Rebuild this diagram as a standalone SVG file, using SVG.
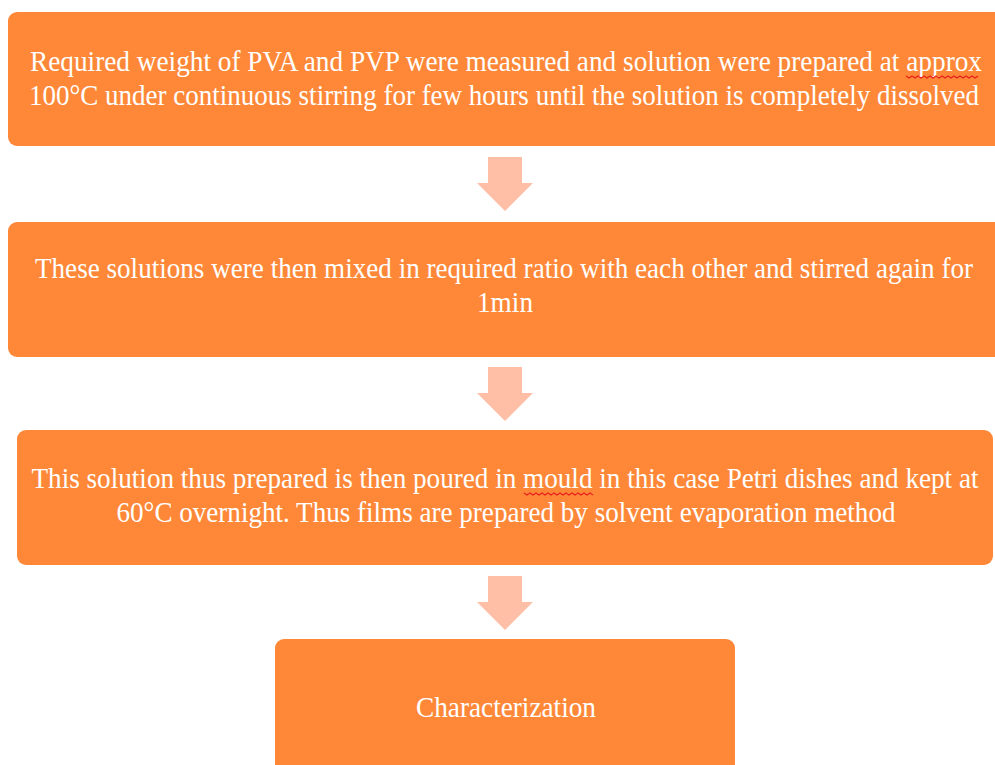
<svg xmlns="http://www.w3.org/2000/svg" width="995" height="765" viewBox="0 0 995 765">
<style>
.box{fill:#FE8838;}
.arr{fill:#FFBFA7;}
.t{font-family:"Liberation Serif","Times New Roman",serif;font-size:30px;fill:#FFFFFF;text-anchor:middle;}
.sq{fill:none;stroke:#E8201C;stroke-width:1.2;}
</style>
<rect width="995" height="765" fill="#FFFFFF"/>
<g id="connectors">
<polygon class="arr" points="488,157 522,157 522,183 533,183 505,211 477,183 488,183"/>
<polygon class="arr" points="488,367 522,367 522,393 533,393 505,421 477,393 488,393"/>
<polygon class="arr" points="488,576 522,576 522,602 533,602 505,630 477,602 488,602"/>
</g>
<g id="step1">
<path class="box" d="M17,12 H995 V146 H17 A9,9 0 0 1 8,137 V21 A9,9 0 0 1 17,12 Z"/>
<text class="t" x="506" y="71" textLength="952" lengthAdjust="spacingAndGlyphs">Required weight of PVA and PVP were measured and solution were prepared at approx</text>
<text class="t" x="504" y="105" textLength="950" lengthAdjust="spacingAndGlyphs">100°C under continuous stirring for few hours until the solution is completely dissolved</text>
<path class="sq" d="M906,76 l3,2 l3,-2 l3,2 l3,-2 l3,2 l3,-2 l3,2 l3,-2 l3,2 l3,-2 l3,2 l3,-2 l3,2 l3,-2 l3,2 l3,-2 l3,2 l3,-2 l3,2 l3,-2 l3,2 l3,-2 l3,2 l3,-2"/>
</g>
<g id="step2">
<path class="box" d="M17,222 H995 V357 H17 A9,9 0 0 1 8,348 V231 A9,9 0 0 1 17,222 Z"/>
<text class="t" x="504" y="278" textLength="938" lengthAdjust="spacingAndGlyphs">These solutions were then mixed in required ratio with each other and stirred again for</text>
<text class="t" x="505" y="312" textLength="56" lengthAdjust="spacingAndGlyphs">1min</text>
</g>
<g id="step3">
<rect class="box" x="17" y="430" width="976" height="135" rx="9"/>
<text class="t" x="505" y="488" textLength="947" lengthAdjust="spacingAndGlyphs">This solution thus prepared is then poured in mould in this case Petri dishes and kept at</text>
<text class="t" x="506" y="522" textLength="779" lengthAdjust="spacingAndGlyphs">60°C overnight. Thus films are prepared by solvent evaporation method</text>
<path class="sq" d="M524,493 l3,2 l3,-2 l3,2 l3,-2 l3,2 l3,-2 l3,2 l3,-2 l3,2 l3,-2 l3,2 l3,-2 l3,2 l3,-2 l3,2 l3,-2 l3,2 l3,-2 l3,2 l3,-2 l3,2 l3,-2 l3,2"/>
</g>
<g id="step4">
<path class="box" d="M284,639 H726 A9,9 0 0 1 735,648 V765 H275 V648 A9,9 0 0 1 284,639 Z"/>
<text class="t" x="506" y="717" textLength="180" lengthAdjust="spacingAndGlyphs">Characterization</text>
</g>
</svg>
